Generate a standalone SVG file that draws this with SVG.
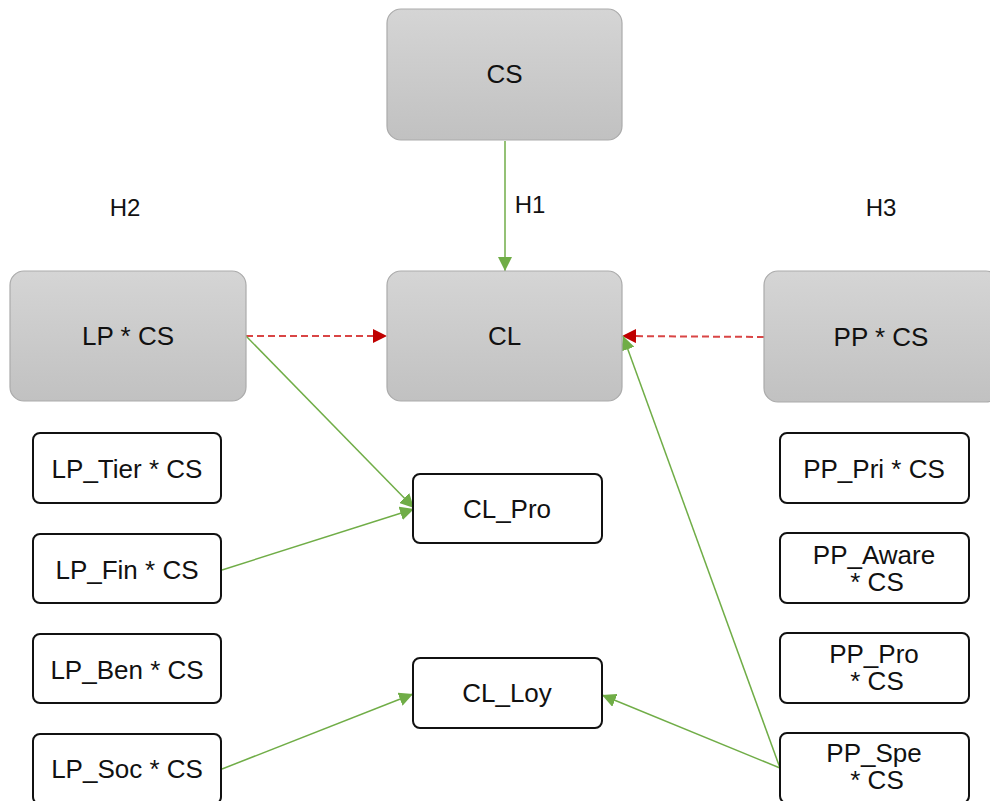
<svg xmlns="http://www.w3.org/2000/svg" width="990" height="801" viewBox="0 0 990 801">
<style>
text{font-family:"Liberation Sans",Arial,sans-serif;font-size:26px;fill:#111;text-anchor:middle}
.lbl{font-size:24px}
.big{fill:url(#g);stroke:#ababab;stroke-width:1.2}
.sm{fill:#fff;stroke:#111;stroke-width:2}
.gl{stroke:#70ad47;stroke-width:1.5;fill:none}
.rl{stroke:#d94545;stroke-width:2;stroke-dasharray:7,4;fill:none}
</style>
<defs>
<linearGradient id="g" x1="0" y1="0" x2="0" y2="1">
<stop offset="0" stop-color="#d5d5d5"/>
<stop offset="1" stop-color="#c1c1c1"/>
</linearGradient>
<marker id="ag" markerUnits="userSpaceOnUse" markerWidth="14" markerHeight="14" refX="14" refY="7" orient="auto">
<path d="M0,0 L14,7 L0,14 z" fill="#70ad47"/>
</marker>
<marker id="ar" markerUnits="userSpaceOnUse" markerWidth="14" markerHeight="14" refX="14" refY="7" orient="auto">
<path d="M0,0 L14,7 L0,14 z" fill="#c00000"/>
</marker>
</defs>
<rect width="990" height="801" fill="#fff"/>
<g id="connectors">
<line class="gl" x1="505" y1="141" x2="505" y2="271" marker-end="url(#ag)"/>
<line class="rl" x1="246" y1="336" x2="387" y2="336" marker-end="url(#ar)"/>
<line class="rl" x1="764" y1="337" x2="622" y2="336" marker-end="url(#ar)"/>
<line class="gl" x1="246" y1="336" x2="414" y2="508" marker-end="url(#ag)"/>
<line class="gl" x1="222" y1="570" x2="414" y2="509" marker-end="url(#ag)"/>
<line class="gl" x1="222" y1="769" x2="413" y2="694" marker-end="url(#ag)"/>
<line class="gl" x1="780" y1="768" x2="602" y2="695" marker-end="url(#ag)"/>
<line class="gl" x1="780" y1="768" x2="623" y2="336" marker-end="url(#ag)"/>
</g>
<g id="labels">
<text class="lbl" x="125" y="216">H2</text>
<text class="lbl" x="530" y="213">H1</text>
<text class="lbl" x="881" y="216">H3</text>
</g>
<g id="CS"><rect class="big" x="387" y="9" width="235" height="131" rx="14"/><text x="504.5" y="83">CS</text></g>
<g id="CL"><rect class="big" x="387" y="271" width="235" height="130" rx="14"/><text x="504.5" y="345">CL</text></g>
<g id="LPCS"><rect class="big" x="10" y="271" width="236" height="130" rx="14"/><text x="128" y="345">LP * CS</text></g>
<g id="PPCS"><rect class="big" x="764" y="271" width="236" height="131" rx="14"/><text x="881" y="346">PP * CS</text></g>
<g id="LP_Tier"><rect class="sm" x="33" y="433" width="188" height="70" rx="7"/><text x="127" y="478">LP_Tier * CS</text></g>
<g id="LP_Fin"><rect class="sm" x="33" y="534" width="188" height="69" rx="7"/><text x="127" y="579">LP_Fin * CS</text></g>
<g id="LP_Ben"><rect class="sm" x="33" y="634" width="188" height="69" rx="7"/><text x="127" y="679">LP_Ben * CS</text></g>
<g id="LP_Soc"><rect class="sm" x="33" y="734" width="188" height="70" rx="7"/><text x="127" y="778">LP_Soc * CS</text></g>
<g id="CL_Pro"><rect class="sm" x="413" y="474" width="189" height="69" rx="7"/><text x="507" y="518">CL_Pro</text></g>
<g id="CL_Loy"><rect class="sm" x="413" y="658" width="189" height="70" rx="7"/><text x="507" y="702">CL_Loy</text></g>
<g id="PP_Pri"><rect class="sm" x="780" y="433" width="189" height="70" rx="7"/><text x="874" y="478">PP_Pri * CS</text></g>
<g id="PP_Aware"><rect class="sm" x="780" y="533" width="189" height="70" rx="7"/><text x="874" y="564">PP_Aware<tspan x="877" dy="27">* CS</tspan></text></g>
<g id="PP_Pro"><rect class="sm" x="780" y="633" width="189" height="70" rx="7"/><text x="874" y="663">PP_Pro<tspan x="877" dy="27">* CS</tspan></text></g>
<g id="PP_Spe"><rect class="sm" x="780" y="733" width="189" height="70" rx="7"/><text x="874" y="762">PP_Spe<tspan x="877" dy="27">* CS</tspan></text></g>
</svg>
